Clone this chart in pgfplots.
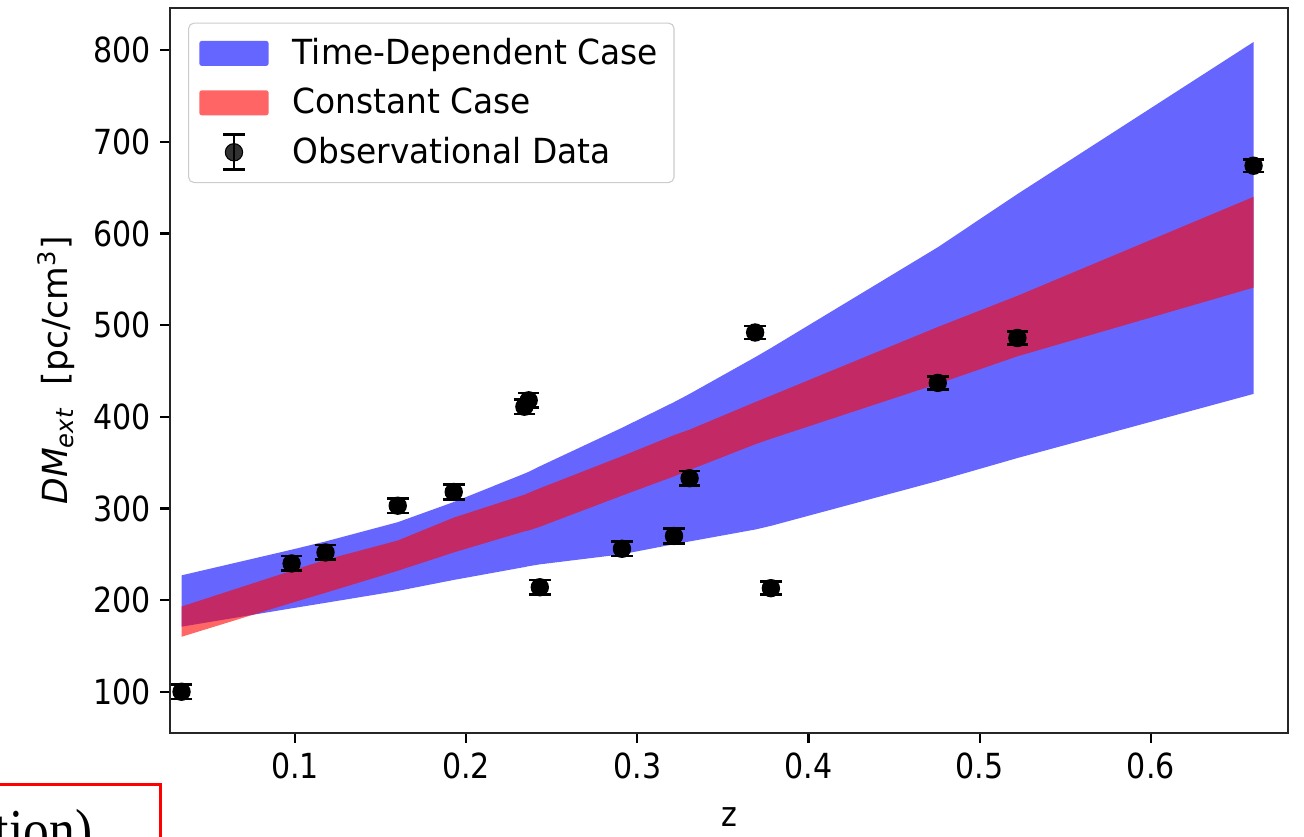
\documentclass[border=0pt]{standalone}
\usepackage{fontspec}
\setmainfont[FakeStretch=0.87]{DejaVu Sans}
\newfontfamily\ylfont{DejaVu Sans}
\newfontfamily\lgfont[FakeStretch=0.95]{DejaVu Sans}
\newfontfamily\tnr[FakeStretch=0.87]{Liberation Serif}
\usepackage{pgfplots}
\pgfplotsset{compat=1.18}
\usepgfplotslibrary{fillbetween}

% model bands: z, time-dependent upper/lower, constant upper/lower
\pgfplotstableread{
z      ub   lb   ur   lr
0.0337 227  171  193  160
0.098  255  191  232  197
0.1178 264  197  244  208
0.16   285  210  265  232
0.1927 307  222  290  252
0.234  338  236  315  275
0.2365 340  237  317  276
0.243  346  239  322  280
0.291  388  250  357  314
0.3214 416  261  380  335
0.3305 425  264  386  342
0.3688 465  277  416  370
0.378  475  281  423  376
0.4755 585  330  498  436
0.522  643  355  532  466
0.66   809  425  640  541
}\bands

% observational data
\pgfplotstableread{
z      dm   err
0.0337 100  8
0.098  240  8
0.1178 252  8
0.16   303  8
0.1927 318  8
0.234  411  8
0.2365 418  8
0.243  214  8
0.291  256  8
0.3214 270  8
0.3305 333  8
0.3688 492  7
0.378  213  7
0.4755 437  7
0.522  486  7
0.66   674  7
}\obs

\begin{document}
\begin{tikzpicture}
\begin{axis}[
    at={(0pt,0pt)}, anchor=south west,
    scale only axis,
    width=414pt, height=268.5pt,
    xmin=0.027, xmax=0.68,
    ymin=55, ymax=846,
    xtick={0.1,0.2,0.3,0.4,0.5,0.6},
    ytick={100,200,300,400,500,600,700,800},
    scaled x ticks=false,
    xticklabel style={/pgf/number format/fixed, /pgf/number format/precision=1},
    /pgf/number format/assume math mode=true,
    tick pos=left,
    tick align=outside,
    major tick length=3.7pt,
    tick style={line width=0.8pt, black},
    axis line style={line width=0.9pt, black!85},
    ticklabel style={font=\fontsize{12.8}{15}\selectfont},
    xlabel={z},
    xlabel style={yshift=-4pt},
    ylabel={\ylfont\textit{DM}\textsubscript{\textit{ext}}\ \ [pc/cm\textsuperscript{3}]},
    label style={font=\fontsize{12.8}{15}\selectfont},
    legend cell align=left,
    legend style={
        at={(0.0161,0.98)}, anchor=north west,
        draw=black!20, rounded corners=2pt,
        fill=white, fill opacity=0.8, text opacity=1,
        font=\lgfont\fontsize{12.8}{15}\selectfont,
        inner xsep=4pt, inner ysep=3.6pt,
        row sep=3.2pt,
        /tikz/every odd column/.append style={column sep=7pt},
    },
]

\addplot[name path=ub, draw=none, forget plot] table[x=z, y=ub] {\bands};
\addplot[name path=lb, draw=none, forget plot] table[x=z, y=lb] {\bands};
\addplot[fill=blue, fill opacity=0.6, draw=none,
    legend image code/.code={\fill[blue, fill opacity=0.6, rounded corners=0.8pt] (0pt,-4.6pt) rectangle (25.6pt,4.6pt);}]
    fill between[of=ub and lb];
\addlegendentry{Time-Dependent Case}

\addplot[name path=ur, draw=none, forget plot] table[x=z, y=ur] {\bands};
\addplot[name path=lr, draw=none, forget plot] table[x=z, y=lr] {\bands};
\addplot[fill=red, fill opacity=0.6, draw=none,
    legend image code/.code={\fill[red, fill opacity=0.6, rounded corners=0.8pt] (0pt,-4.6pt) rectangle (25.6pt,4.6pt);}]
    fill between[of=ur and lr];
\addlegendentry{Constant Case}

\addplot[only marks, mark=*, mark size=3.2pt, black,
    error bars/.cd, y dir=both, y explicit,
    error bar style={line width=1pt, black},
    error mark=-, error mark options={rotate=90, mark size=4pt, line width=1pt, black},
    /pgfplots/legend image code/.code={
        \draw[line width=1pt] (12.8pt,-6.5pt) -- (12.8pt,6.5pt);
        \draw[line width=1pt] (8.8pt,-6.5pt) -- (16.8pt,-6.5pt);
        \draw[line width=1pt] (8.8pt,6.5pt) -- (16.8pt,6.5pt);
        \fill (12.8pt,0pt) circle (3.2pt);}]
    table[x=z, y=dm, y error=err] {\obs};
\addlegendentry{Observational Data}
\end{axis}

\draw[red, line width=1.1pt] (-80pt,-50pt) rectangle (-3.7pt,-19.2pt);
\node[anchor=base east, inner sep=0pt, font=\tnr\fontsize{22}{24}\selectfont] at (-28.6pt,-43.5pt) {tion)};

\pgfresetboundingbox
\useasboundingbox (-63pt,-38.5pt) rectangle (420pt,271.5pt);
\end{tikzpicture}
\end{document}
